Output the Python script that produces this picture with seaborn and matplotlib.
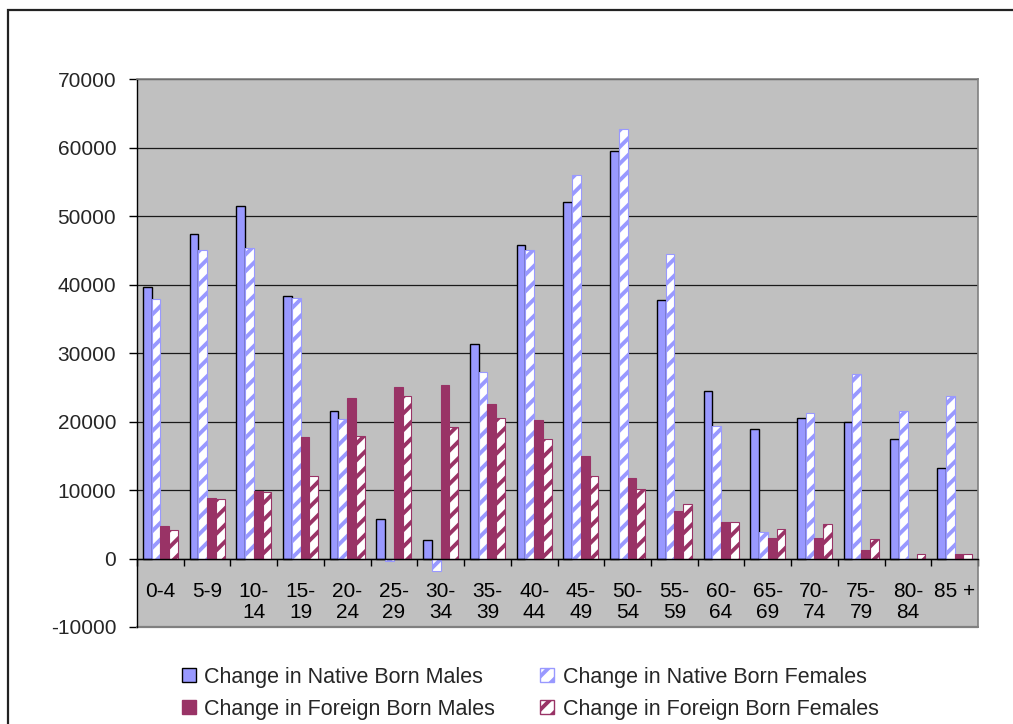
import matplotlib
matplotlib.use("Agg")
import matplotlib.pyplot as plt
from matplotlib.patches import Patch, Rectangle
import numpy as np
import pandas as pd
import seaborn as sns

# Age groups (two-line labels as in an Excel category axis)
age_groups = ["0-4", "5-9", "10-\n14", "15-\n19", "20-\n24", "25-\n29", "30-\n34",
              "35-\n39", "40-\n44", "45-\n49", "50-\n54", "55-\n59", "60-\n64",
              "65-\n69", "70-\n74", "75-\n79", "80-\n84", "85 +"]

native_males = [39600, 47400, 51500, 38300, 21500, 5800, 2700, 31300, 45700,
                52000, 59500, 37700, 24500, 18900, 20500, 20000, 17400, 13200]
native_females = [37900, 45000, 45300, 38100, 20300, -400, -1800, 27200, 45100,
                  56000, 62700, 44400, 19400, 3800, 21200, 26900, 21500, 23700]
foreign_males = [4700, 8800, 9900, 17700, 23500, 25100, 25300, 22600, 20200,
                 15000, 11700, 7000, 5400, 3000, 3000, 1200, 0, 600]
foreign_females = [4100, 8700, 9700, 12000, 17900, 23700, 19200, 20500, 17500,
                   12100, 10200, 7900, 5400, 4300, 5100, 2900, 600, 600]

series_names = ["Change in Native Born Males", "Change in Native Born Females",
                "Change in Foreign Born Males", "Change in Foreign Born Females"]
series_values = [native_males, native_females, foreign_males, foreign_females]

y_ticks = [-10000, 0, 10000, 20000, 30000, 40000, 50000, 60000, 70000]

BLUE = "#9999FF"
PLUM = "#993366"

df = pd.DataFrame({
    "age": np.tile(age_groups, len(series_names)),
    "series": np.repeat(series_names, len(age_groups)),
    "value": np.concatenate(series_values),
})

sns.set_theme(style="white")
plt.rcParams["font.family"] = ["Liberation Sans", "DejaVu Sans"]
plt.rcParams["hatch.linewidth"] = 2.8

W, H = 1013, 724
fig = plt.figure(figsize=(W / 100, H / 100), dpi=100)
fig.patch.set_facecolor("white")

# Outer chart border (left and top edges visible)
fig.add_artist(Rectangle((8 / W, -0.05), 1.2, 1 - 10 / H + 0.05,
                         transform=fig.transFigure, fill=False,
                         edgecolor="#222222", lw=1.6))

left, right, top, bottom = 137, 978, 79, 627
ax = fig.add_axes([left / W, 1 - bottom / H, (right - left) / W, (bottom - top) / H])
ax.set_facecolor("#C0C0C0")

sns.barplot(data=df, x="age", y="value", hue="series", hue_order=series_names,
            order=age_groups, width=0.75, ax=ax, legend=False, saturation=1,
            errorbar=None)

styles = [
    dict(facecolor=BLUE, edgecolor="black", hatch=None, lw=1.0),
    dict(facecolor="white", edgecolor=BLUE, hatch="//", lw=0.8),
    dict(facecolor=PLUM, edgecolor=PLUM, hatch=None, lw=0.8),
    dict(facecolor="white", edgecolor=PLUM, hatch="//", lw=0.8),
]
for cont, st in zip(ax.containers, styles):
    for bar in cont:
        bar.set_facecolor(st["facecolor"])
        bar.set_edgecolor(st["edgecolor"])
        bar.set_linewidth(st["lw"])
        if st["hatch"]:
            bar.set_hatch(st["hatch"])

ax.set_xlim(-0.5, len(age_groups) - 0.5)
ax.set_ylim(-10000, 70000)
ax.set_yticks(y_ticks)
ax.set_yticklabels([str(v) for v in y_ticks])
ax.set_xlabel("")
ax.set_ylabel("")

# Horizontal gridlines
ax.set_axisbelow(True)
ax.yaxis.grid(True, color="#1a1a1a", lw=0.9)
ax.xaxis.grid(False)

# Category axis crosses at zero
for s in ["top", "right"]:
    ax.spines[s].set_color("#808080")
    ax.spines[s].set_linewidth(1.2)
ax.spines["left"].set_color("black")
ax.spines["left"].set_linewidth(1.0)
ax.spines["bottom"].set_position(("data", 0))
ax.spines["bottom"].set_color("black")
ax.spines["bottom"].set_linewidth(1.0)
ax.axhline(-10000, color="#808080", lw=1.6, clip_on=False)

ax.set_xticks(np.arange(len(age_groups)))
ax.set_xticklabels(age_groups, fontsize=15, linespacing=1.15)
ax.set_xticks(np.arange(len(age_groups) + 1) - 0.5, minor=True)
ax.tick_params(axis="x", which="major", length=0, pad=17, colors="black")
ax.tick_params(axis="x", which="minor", length=5, width=1, direction="out",
               color="black")
ax.tick_params(axis="y", which="major", length=6, width=1, direction="out",
               color="black", labelsize=15, pad=9)
ax.tick_params(left=True, bottom=True, which="both")

handles = [
    Patch(facecolor=BLUE, edgecolor="black", lw=1.0),
    Patch(facecolor=PLUM, edgecolor=PLUM),
    Patch(facecolor="white", edgecolor=BLUE, hatch="//"),
    Patch(facecolor="white", edgecolor=PLUM, hatch="//"),
]
labels = [series_names[0], series_names[2], series_names[1], series_names[3]]
fig.legend(handles, labels, ncol=2, frameon=False, fontsize=15.5,
           loc="upper left", bbox_to_anchor=(171 / W, 1 - 656 / H),
           borderpad=0, handlelength=0.65, handleheight=0.65,
           handletextpad=0.4, columnspacing=2.1, labelspacing=0.5)

fig.savefig("out.png", dpi=100)
